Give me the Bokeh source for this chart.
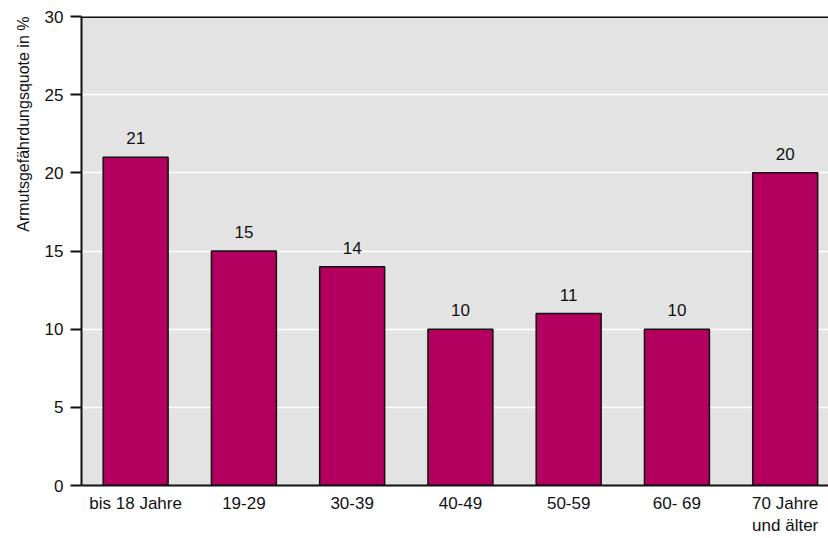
from bokeh.plotting import figure
from bokeh.models import ColumnDataSource, FixedTicker, Span, Range1d, Title
from bokeh.core.properties import value
from bokeh.embed import file_html
from bokeh.resources import INLINE

categories = ["bis 18 Jahre", "19-29", "30-39", "40-49", "50-59", "60- 69", "70 Jahre\nund älter"]
values = [21, 15, 14, 10, 11, 10, 20]
y_ticks = [0, 5, 10, 15, 20, 25, 30]
y_title = "Armutsgefährdungsquote in %"

xs = [i + 0.5 for i in range(len(categories))]
src = ColumnDataSource(dict(x=xs, top=values, lab=[str(v) for v in values]))

FONT = "Liberation Sans"

p = figure(width=828, height=538, output_backend="svg", toolbar_location=None,
           x_range=Range1d(0, 6.9), y_range=Range1d(0, 30),
           min_border_left=81, min_border_right=0, min_border_top=16, min_border_bottom=53)
p.background_fill_color = "#E3E3E3"
p.border_fill_color = "white"
p.outline_line_color = None

p.vbar(x="x", top="top", width=0.6, bottom=0, source=src,
       fill_color="#B3005E", line_color="#111111", line_width=1.5)
p.text(x="x", y="top", text="lab", source=src, y_offset=-19,
       text_align="center", text_baseline="alphabetic",
       text_font=value(FONT), text_font_size="17px", text_color="#111111")

p.add_layout(Span(location=30, dimension="width", line_color="#111111", line_width=3))

p.add_layout(Title(text=y_title, align="right", text_font=FONT, text_font_style="normal",
                   text_font_size="16px", text_color="#111111", standoff=19), "left")

# grid
p.xgrid.grid_line_color = None
p.ygrid.grid_line_color = "white"
p.ygrid.grid_line_width = 1.5
p.ygrid.ticker = FixedTicker(ticks=y_ticks)

# y axis
p.yaxis.ticker = FixedTicker(ticks=y_ticks)
p.yaxis.major_label_text_font = FONT
p.yaxis.major_label_text_font_size = "17px"
p.yaxis.major_label_text_color = "#111111"
p.yaxis.major_label_standoff = 7
p.yaxis.major_tick_in = 0
p.yaxis.major_tick_out = 11
p.yaxis.major_tick_line_width = 2
p.yaxis.major_tick_line_color = "#111111"
p.yaxis.minor_tick_line_color = None
p.yaxis.axis_line_width = 2
p.yaxis.axis_line_color = "#111111"

# x axis
p.xaxis.ticker = FixedTicker(ticks=xs)
p.xaxis.major_label_overrides = {x: c for x, c in zip(xs, categories)}
p.xaxis.major_label_text_font = FONT
p.xaxis.major_label_text_font_size = "17px"
p.xaxis.major_label_text_color = "#111111"
p.xaxis.major_label_standoff = 2
p.xaxis.major_tick_line_color = None
p.xaxis.minor_tick_line_color = None
p.xaxis.axis_line_width = 2
p.xaxis.axis_line_color = "#111111"

open("out.html", "w").write(file_html(p, INLINE))
